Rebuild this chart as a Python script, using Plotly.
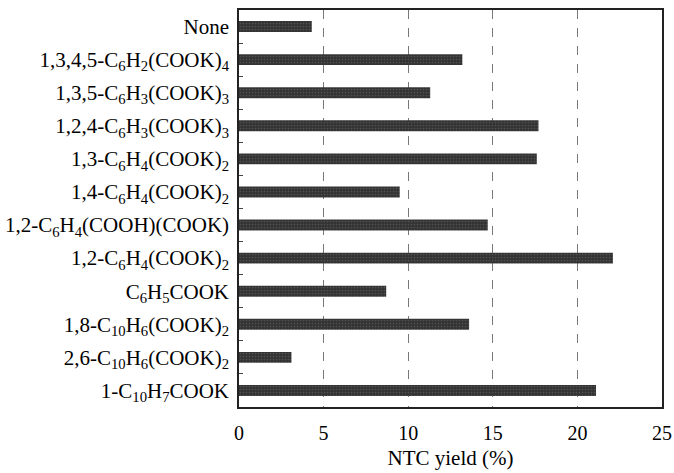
import plotly.graph_objects as go

categories = [
    "None",
    "1,3,4,5-C<sub>6</sub>H<sub>2</sub>(COOK)<sub>4</sub>",
    "1,3,5-C<sub>6</sub>H<sub>3</sub>(COOK)<sub>3</sub>",
    "1,2,4-C<sub>6</sub>H<sub>3</sub>(COOK)<sub>3</sub>",
    "1,3-C<sub>6</sub>H<sub>4</sub>(COOK)<sub>2</sub>",
    "1,4-C<sub>6</sub>H<sub>4</sub>(COOK)<sub>2</sub>",
    "1,2-C<sub>6</sub>H<sub>4</sub>(COOH)(COOK)",
    "1,2-C<sub>6</sub>H<sub>4</sub>(COOK)<sub>2</sub>",
    "C<sub>6</sub>H<sub>5</sub>COOK",
    "1,8-C<sub>10</sub>H<sub>6</sub>(COOK)<sub>2</sub>",
    "2,6-C<sub>10</sub>H<sub>6</sub>(COOK)<sub>2</sub>",
    "1-C<sub>10</sub>H<sub>7</sub>COOK",
]
yields = [4.3, 13.2, 11.3, 17.7, 17.6, 9.5, 14.7, 22.1, 8.7, 13.6, 3.1, 21.1]
x_ticks = [0, 5, 10, 15, 20, 25]

positions = list(range(len(categories)))
font = "Liberation Serif, Times New Roman, serif"

fig = go.Figure(go.Bar(
    x=yields, y=positions, orientation="h", width=0.33,
    marker=dict(color="#333333", line=dict(width=0),
                pattern=dict(shape=".", fgcolor="#707070", size=3, solidity=0.25)),
))

fig.update_layout(
    width=674, height=473,
    margin=dict(l=239, r=12, t=10, b=66),
    paper_bgcolor="white", plot_bgcolor="white",
    font=dict(family=font, size=21, color="black"),
    showlegend=False,
    xaxis=dict(
        range=[0, 25], tickvals=x_ticks, ticks="", ticklabelstandoff=7,
        tickfont=dict(size=20), automargin=False,
        showgrid=True, gridcolor="#777", griddash="dash", gridwidth=1,
        showline=True, linecolor="#222", linewidth=1.5, mirror=True,
        zeroline=False,
        title=dict(text="NTC yield (%)", standoff=8, font=dict(size=21)),
    ),
    yaxis=dict(
        range=[11.5, -0.5], tickmode="array", tickvals=positions, ticktext=categories,
        ticks="", showgrid=False, zeroline=False, ticklabelstandoff=4,
        automargin=False,
        showline=True, linecolor="#222", linewidth=1.5, mirror=True,
        minor=dict(tickmode="array", tickvals=[p + 0.5 for p in positions[:-1]],
                   ticks="inside", ticklen=4, tickcolor="#444", showgrid=False),
    ),
)

fig.write_html("out.html")
